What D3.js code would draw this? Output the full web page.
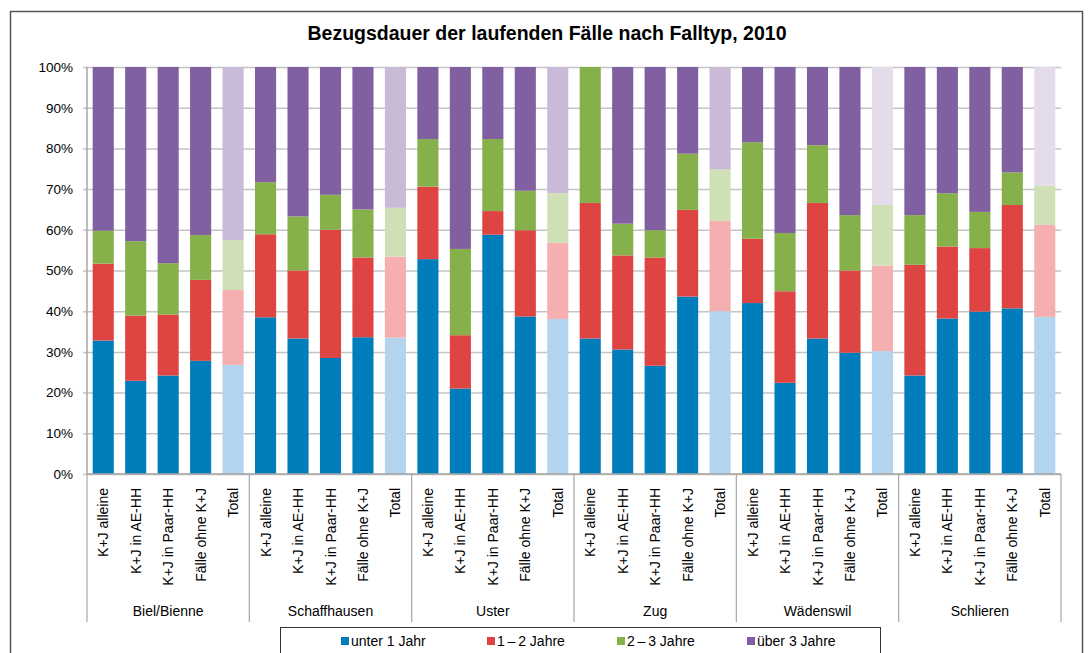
<!DOCTYPE html>
<html>
<head>
<meta charset="utf-8">
<script src="https://cdn.jsdelivr.net/npm/d3@7"></script>
<style>
  body { margin: 0; background: #fff; }
  svg { font-family: "Liberation Sans", Arial, sans-serif; }
</style>
</head>
<body>
<div id="wrapper"></div>
<script>
// data (percent)
const groups = ["Biel/Bienne", "Schaffhausen", "Uster", "Zug", "Wädenswil", "Schlieren"]
const types = ["K+J alleine", "K+J in AE-HH", "K+J in Paar-HH", "Fälle ohne K+J", "Total"]
const seriesNames = ["unter 1 Jahr", "1\u2009\u2013\u20092 Jahre", "2\u2009\u2013\u20093 Jahre", "über 3 Jahre"]
const yTicks = [0, 10, 20, 30, 40, 50, 60, 70, 80, 90, 100]

const unter1 = [32.8, 22.9, 24.2, 27.8, 26.8,  38.5, 33.3, 28.5, 33.6, 33.5,  52.8, 21.0, 58.8, 38.7, 38.1,
                33.3, 30.6, 26.6, 43.6, 40.0,  42.0, 22.4, 33.3, 29.8, 30.2,  24.2, 38.2, 39.9, 40.7, 38.6]
const einsBisZwei = [18.9, 16.0, 15.0, 19.9, 18.4,  20.4, 16.7, 31.5, 19.6, 19.9,  17.8, 13.1, 5.8, 21.2, 18.7,
                     33.3, 23.1, 26.6, 21.3, 22.2,  15.8, 22.5, 33.3, 20.2, 21.0,  27.2, 17.7, 15.6, 25.4, 22.6]
const zweiBisDrei = [8.1, 18.3, 12.6, 11.0, 12.3,  12.8, 13.3, 8.6, 11.8, 12.0,  11.7, 21.2, 17.7, 9.7, 12.2,
                     33.4, 7.8, 6.7, 13.8, 12.6,  23.7, 14.3, 14.2, 13.6, 14.9,  12.2, 13.1, 8.9, 8.0, 9.6]
const ueber3 = [40.2, 42.8, 48.2, 41.3, 42.5,  28.3, 36.7, 31.4, 35.0, 34.6,  17.7, 44.7, 17.7, 30.4, 31.0,
                0.0, 38.5, 40.1, 21.3, 25.2,  18.5, 40.8, 19.2, 36.4, 33.9,  36.4, 31.0, 35.6, 25.9, 29.2]

// colours
const colors = ["#007dba", "#de4441", "#86b04a", "#8060a0"]
const lightColors = ["#b3d4ef", "#f5afb0", "#cfe0b7", "#c9bbd7"]
const lightestPurple = "#e4dcea"

// build table
const keys = ["a", "b", "c", "d"]
const table = []
groups.forEach((g, gi) => {
  types.forEach((t, ti) => {
    const i = gi * types.length + ti
    table.push({ id: i, group: g, groupIndex: gi, type: t,
      a: unter1[i], b: einsBisZwei[i], c: zweiBisDrei[i], d: ueber3[i] })
  })
})

const width = 1088, height = 653
const margin = { top: 67, right: 27, left: 87 }
const plotBottom = 474

const svg = d3.select("#wrapper").append("svg")
  .attr("width", width).attr("height", height)

// outer frame
svg.append("rect")
  .attr("x", 10.5).attr("y", 11.5)
  .attr("width", 1072).attr("height", 700)
  .attr("fill", "none").attr("stroke", "#555").attr("stroke-width", 1.5)

svg.append("text")
  .attr("x", 547).attr("y", 40)
  .attr("text-anchor", "middle")
  .style("font-size", "19.5px").style("font-weight", "bold")
  .text("Bezugsdauer der laufenden Fälle nach Falltyp, 2010")

const x = d3.scaleBand()
  .domain(table.map(d => d.id))
  .range([margin.left, width - margin.right])
  .paddingInner(0.35).paddingOuter(0.175)

const y = d3.scaleLinear().domain([0, 100]).range([plotBottom, margin.top])

// gridlines
const yAxis = d3.axisLeft(y).tickValues(yTicks).tickFormat(d => d + "%")
  .tickSize(-(width - margin.right - margin.left)).tickPadding(14)
const ga = svg.append("g").attr("transform", `translate(${margin.left},0)`).call(yAxis)
ga.select(".domain").remove()
ga.selectAll(".tick line").attr("stroke", "#c4c4c4").attr("stroke-width", 1.5)
ga.selectAll(".tick text").style("font-size", "13.5px").attr("fill", "#000")
ga.selectAll(".tick line").attr("x1", -4)

// stacked bars
const stack = d3.stack().keys(keys)(table)
const layers = svg.append("g").selectAll("g").data(stack).join("g")
layers.selectAll("rect")
  .data((s, si) => s.map(p => ({ p, si })))
  .join("rect")
  .attr("x", d => x(d.p.data.id))
  .attr("width", x.bandwidth())
  .attr("y", d => y(d.p[1]))
  .attr("height", d => y(d.p[0]) - y(d.p[1]))
  .attr("fill", d => {
    if (d.p.data.type !== "Total") return colors[d.si]
    if (d.si === 3 && d.p.data.groupIndex >= 4) return lightestPurple
    return lightColors[d.si]
  })

// left axis line and bottom line
svg.append("line")
  .attr("x1", margin.left).attr("x2", margin.left)
  .attr("y1", margin.top).attr("y2", plotBottom)
  .attr("stroke", "#a6a6a6").attr("stroke-width", 1.5)
svg.append("line")
  .attr("x1", margin.left).attr("x2", width - margin.right)
  .attr("y1", plotBottom).attr("y2", plotBottom)
  .attr("stroke", "#a6a6a6").attr("stroke-width", 1.5)

// category labels (rotated)
svg.append("g").selectAll("text").data(table).join("text")
  .attr("transform", d => `translate(${x(d.id) + x.bandwidth() / 2 + 5},488) rotate(-90)`)
  .attr("text-anchor", "end")
  .style("font-size", "14px")
  .text(d => d.type)

// group separators and labels
const groupEdges = groups.map((g, gi) => x(gi * types.length) - x.step() * x.paddingInner() / 2)
groupEdges.push(width - margin.right)
svg.append("g").selectAll("line").data(groupEdges).join("line")
  .attr("x1", d => d).attr("x2", d => d)
  .attr("y1", plotBottom).attr("y2", 622)
  .attr("stroke", "#a6a6a6").attr("stroke-width", 1.2)

svg.append("g").selectAll("text").data(groups).join("text")
  .attr("x", (g, gi) => (groupEdges[gi] + groupEdges[gi + 1]) / 2)
  .attr("y", 616)
  .attr("text-anchor", "middle")
  .style("font-size", "14px")
  .text(d => d)

// legend
const legend = svg.append("g")
legend.append("rect")
  .attr("x", 280.5).attr("y", 627.5).attr("width", 600).attr("height", 40)
  .attr("fill", "#fff").attr("stroke", "#333").attr("stroke-width", 1)
const legendX = [341, 487, 617, 747]
const items = legend.selectAll("g.item").data(seriesNames).join("g")
  .attr("transform", (d, i) => `translate(${legendX[i]},0)`)
items.append("rect")
  .attr("x", 0).attr("y", 637).attr("width", 8).attr("height", 8)
  .attr("fill", (d, i) => colors[i])
items.append("text")
  .attr("x", 10).attr("y", 646)
  .style("font-size", "14px")
  .text(d => d)
</script>
</body>
</html>
